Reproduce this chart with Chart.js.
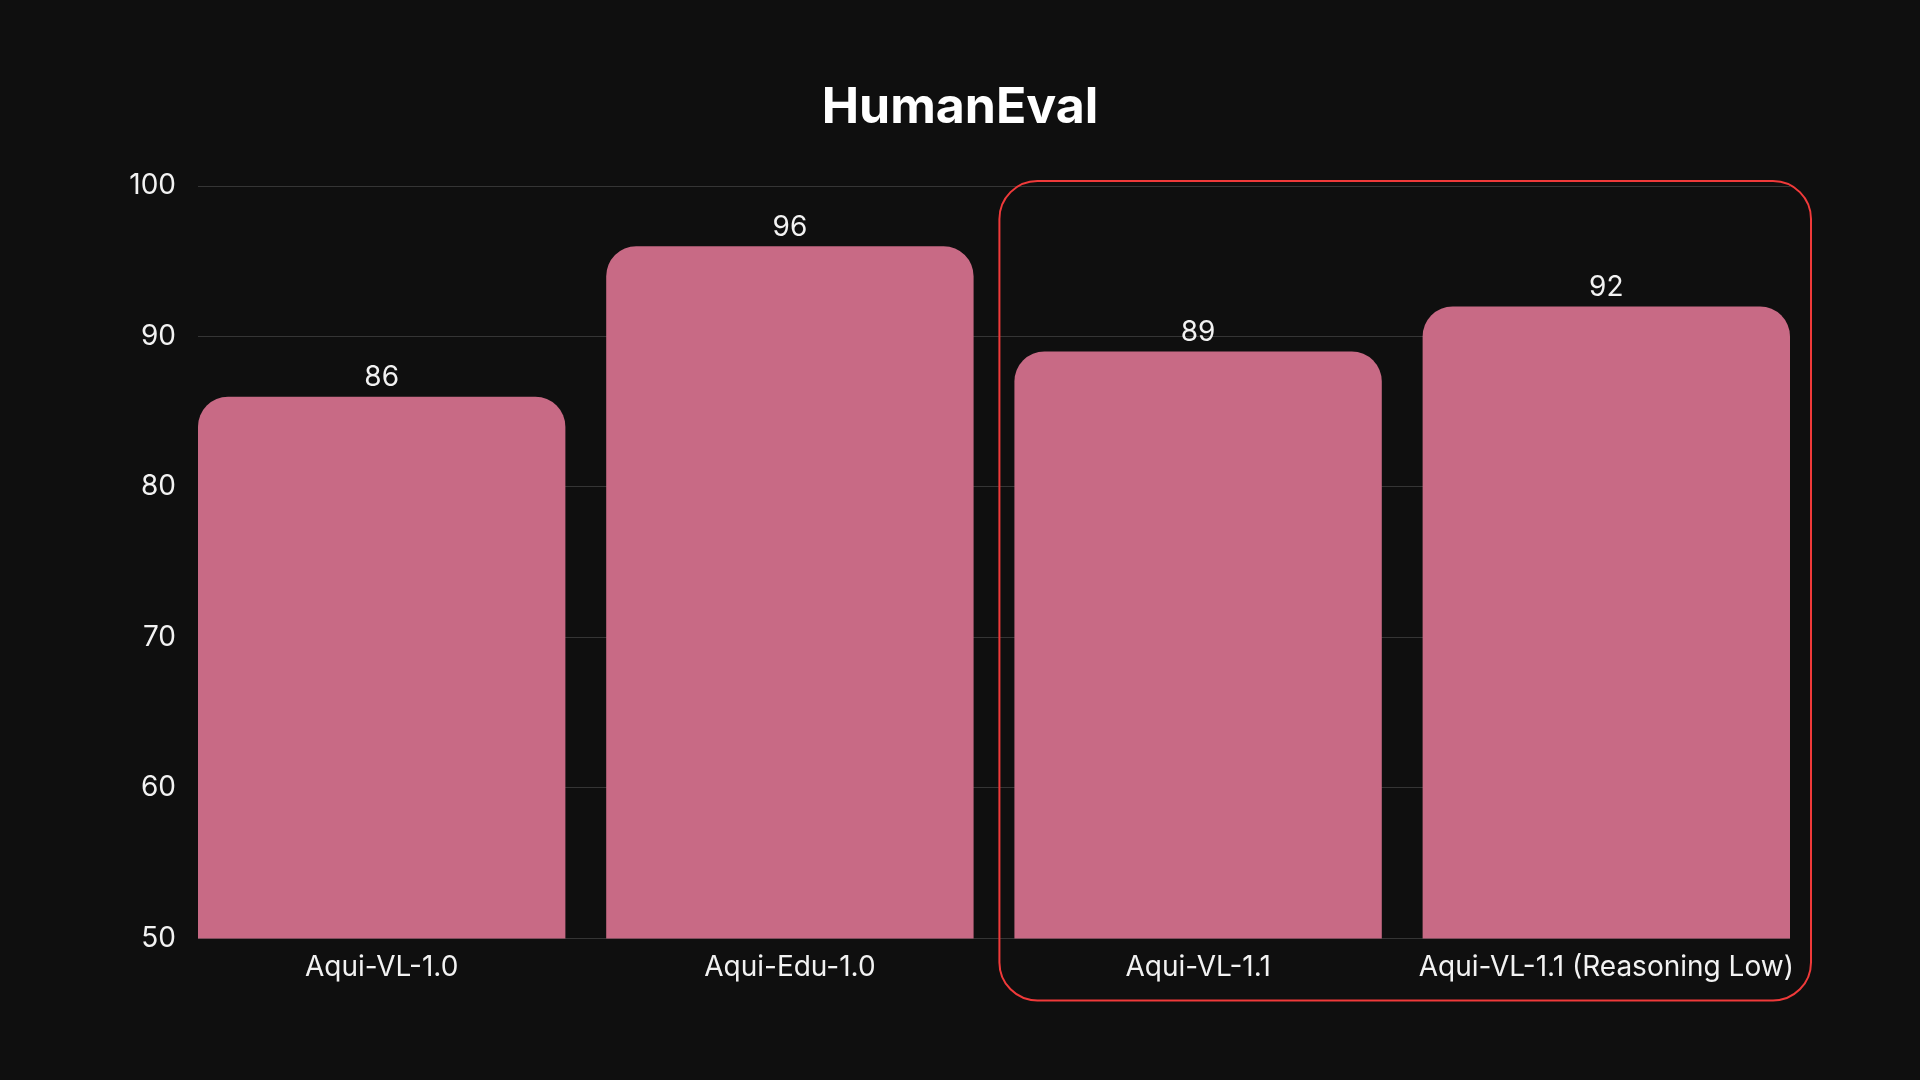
<!DOCTYPE html>
<html>
<head>
<meta charset="utf-8">
<script src="https://cdn.jsdelivr.net/npm/chart.js@4.4.0/dist/chart.umd.min.js"></script>
<style>
  html, body { margin: 0; padding: 0; background: #0f0f0f; }
  #wrap { width: 1920px; height: 1080px; }
</style>
</head>
<body>
<div id="wrap"><canvas id="humanEvalChart" width="1920" height="1080"></canvas></div>
<script>
const models = ['Aqui-VL-1.0', 'Aqui-Edu-1.0', 'Aqui-VL-1.1', 'Aqui-VL-1.1 (Reasoning Low)'];
const scores = [86, 96, 89, 92];
const yTicks = [50, 60, 70, 80, 90, 100];
const highlighted = [2, 3]; // categories inside the red box

// bars sit flush with the plot edges, so use a linear x axis with half-bar margins
const barFrac = 0.9;

// value labels above bars---------------------------
const valueLabels = {
  id: 'valueLabels',
  afterDatasetsDraw(chart) {
    const ctx = chart.ctx;
    const meta = chart.getDatasetMeta(0);
    ctx.save();
    ctx.font = '28px Inter';
    ctx.fillStyle = '#f2f2f2';
    ctx.textAlign = 'center';
    ctx.textBaseline = 'bottom';
    meta.data.forEach((bar, i) => {
      ctx.fillText(String(scores[i]), bar.x, bar.y - 5);
    });
    ctx.restore();
  }
};

// red rounded box around the newer models----------
const highlightBox = {
  id: 'highlightBox',
  afterDraw(chart) {
    const ctx = chart.ctx;
    const meta = chart.getDatasetMeta(0);
    const first = meta.data[highlighted[0]];
    const last = meta.data[highlighted[highlighted.length - 1]];
    const area = chart.chartArea;
    const left = first.x - first.width / 2 - 15;
    const right = last.x + last.width / 2 + 21;
    const top = area.top - 5;
    const bottom = area.bottom + 62;
    ctx.save();
    ctx.strokeStyle = '#f03a3a';
    ctx.lineWidth = 2;
    ctx.beginPath();
    ctx.roundRect(left, top, right - left, bottom - top, 38);
    ctx.stroke();
    ctx.restore();
  }
};

const chartCanvas = document.getElementById('humanEvalChart').getContext('2d');
new Chart(chartCanvas, {
  type: 'bar',
  data: {
    datasets: [
      {
        label: 'HumanEval',
        data: scores.map((s, i) => ({ x: i, y: s })),
        backgroundColor: '#c86a85',
        borderRadius: { topLeft: 30, topRight: 30, bottomLeft: 0, bottomRight: 0 },
        borderSkipped: false,
        barPercentage: 1,
        categoryPercentage: barFrac
      }
    ]
  },
  options: {
    responsive: false,
    animation: false,
    layout: {
      padding: { top: 78, left: 130, right: 130, bottom: 92 }
    },
    plugins: {
      legend: { display: false },
      tooltip: { enabled: false },
      title: {
        display: true,
        text: 'HumanEval',
        color: '#ffffff',
        font: { family: 'Inter', size: 50, weight: 'bold', lineHeight: 1.2 },
        padding: { top: 0, bottom: 48 }
      }
    },
    scales: {
      x: {
        type: 'linear',
        offset: false,
        min: -barFrac / 2,
        max: models.length - 1 + barFrac / 2,
        afterBuildTicks: (axis) => {
          axis.ticks = models.map((m, i) => ({ value: i }));
        },
        grid: { display: false },
        border: { display: false },
        ticks: {
          callback: (v) => models[v],
          color: '#f2f2f2',
          font: { family: 'Inter', size: 28 },
          padding: 4,
          maxRotation: 0,
          autoSkip: false
        }
      },
      y: {
        min: yTicks[0],
        max: yTicks[yTicks.length - 1],
        afterFit: (axis) => { axis.width = 68; },
        grid: { color: 'rgba(255,255,255,0.16)', drawTicks: false, lineWidth: 1 },
        border: { display: false },
        ticks: {
          stepSize: 10,
          color: '#f2f2f2',
          font: { family: 'Inter', size: 28 },
          padding: 22
        }
      }
    }
  },
  plugins: [valueLabels, highlightBox]
});
</script>
</body>
</html>
